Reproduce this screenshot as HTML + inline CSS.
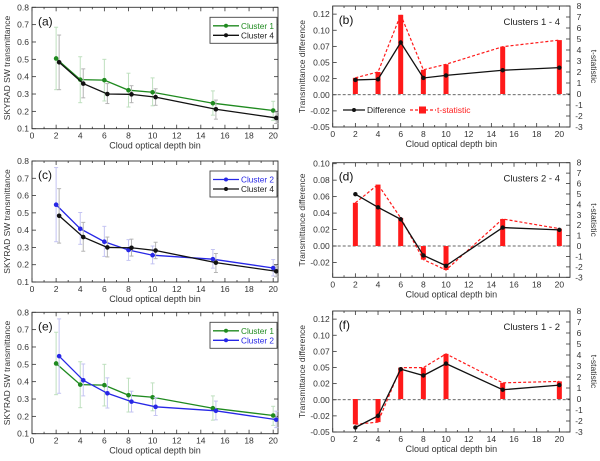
<!DOCTYPE html>
<html><head><meta charset="utf-8">
<style>
html,body{margin:0;padding:0;background:#fff;}
svg{display:block;font-family:"Liberation Sans",sans-serif;}
</style></head>
<body>
<svg id="fig" width="600" height="461" viewBox="0 0 600 461" xmlns="http://www.w3.org/2000/svg"></svg>
<script>
// ---- data ----
const bins = [2, 4, 6, 8, 10, 15, 20];
const cluster1 = [0.505, 0.383, 0.380, 0.322, 0.310, 0.247, 0.205];
const cluster1Lo = [0.325, 0.250, 0.260, 0.225, 0.232, 0.178, 0.148];
const cluster1Hi = [0.685, 0.515, 0.500, 0.420, 0.393, 0.318, 0.258];
const cluster2 = [0.547, 0.408, 0.333, 0.285, 0.255, 0.232, 0.181];
const cluster2Lo = [0.333, 0.318, 0.248, 0.225, 0.205, 0.180, 0.135];
const cluster2Hi = [0.762, 0.502, 0.422, 0.345, 0.308, 0.288, 0.230];
const cluster4 = [0.483, 0.360, 0.300, 0.298, 0.282, 0.212, 0.162];
const cluster4Lo = [0.325, 0.278, 0.245, 0.250, 0.235, 0.155, 0.130];
const cluster4Hi = [0.640, 0.445, 0.360, 0.348, 0.330, 0.265, 0.195];
const diff14 = [0.023, 0.024, 0.081, 0.026, 0.030, 0.038, 0.042];
const tstat14 = [1.47, 2.0, 7.2, 2.2, 2.7, 4.3, 4.9];
const diff24 = [0.063, 0.047, 0.0325, -0.0114, -0.024, 0.0224, 0.0196];
const tstat24 = [4.15, 5.9, 2.7, -1.3, -2.3, 2.6, 1.67];
const diff12 = [-0.043, -0.025, 0.0474, 0.0376, 0.056, 0.0155, 0.0227];
const tstat12 = [-2.3, -2.1, 2.85, 2.85, 4.1, 1.47, 1.6];
const leftYTicks = [0.1, 0.2, 0.3, 0.4, 0.5, 0.6, 0.7, 0.8];
const diffTicksB = [-0.05, -0.025, 0, 0.025, 0.05, 0.075, 0.1, 0.125];
const diffLabelsB = ["-0.05", "-0.02", "0.00", "0.02", "0.05", "0.07", "0.10", "0.12"];
const diffTicksD = [-0.02, 0, 0.02, 0.04, 0.06, 0.08, 0.10];
const diffLabelsD = ["-0.02", "0.00", "0.02", "0.04", "0.06", "0.08", "0.10"];
const tTicks = [-3, -2, -1, 0, 1, 2, 3, 4, 5, 6, 7, 8];
const xTicks = [0, 2, 4, 6, 8, 10, 12, 14, 16, 18, 20];

const NS = "http://www.w3.org/2000/svg";
const svg = document.getElementById('fig');
function mk(tag, attrs, parent, text) {
  const e = document.createElementNS(NS, tag);
  for (const k in attrs) e.setAttribute(k, attrs[k]);
  if (text !== undefined) e.textContent = text;
  (parent || svg).appendChild(e);
  return e;
}
const GREEN = "#1f8a1f", BLUE = "#2727e6", BLACK = "#111", RED = "#ff1a1a";
const LG = "#bfe0bf", LB = "#c4c4f2", LK = "#b4b4b4";

function drawXAxis(g, box, sx) {
  for (let v = 0; v <= 20; v++) {
    const x = sx(v), len = v % 2 === 0 ? 4 : 2;
    const t = mk('line', {x1: x, x2: x, y1: box.y1, y2: box.y1 - len, stroke: '#333', 'stroke-width': 0.8}, g);
    
    
    const t2 = mk('line', {x1: x, x2: x, y1: box.y0, y2: box.y0 + len, stroke: '#333', 'stroke-width': 0.8}, g);
    
    
  }
  xTicks.forEach(v => {
    const l = mk('text', {x: sx(v), y: box.y1 + 10, 'font-size': 8.5, 'text-anchor': 'middle', fill: '#333'}, g, String(v));
    
    
  });
  const tt = mk('text', {x: (box.x0 + box.x1) / 2, y: box.y1 + 20, 'font-size': 9, 'text-anchor': 'middle', fill: '#333'}, g, 'Cloud optical depth bin');
  
  
}
function frame(g, box) {
  const r = mk('rect', {x: box.x0, y: box.y0, width: box.x1 - box.x0, height: box.y1 - box.y0, fill: 'none', stroke: '#333', 'stroke-width': 0.9}, g);
  
  
}
function series(g, xs, ys, lo, hi, sx, sy, col, errCol, off, name) {
  xs.forEach((v, i) => {
    const x = sx(v + off);
    const e = mk('line', {x1: x, x2: x, y1: sy(lo[i]), y2: sy(hi[i]), stroke: errCol, 'stroke-width': 1}, g);
    
    
    [lo[i], hi[i]].forEach(w => {
      const c = mk('line', {x1: x - 2, x2: x + 2, y1: sy(w), y2: sy(w), stroke: errCol, 'stroke-width': 1}, g);
      
      
    });
  });
  const pts = xs.map((v, i) => sx(v + off) + ',' + sy(ys[i])).join(' ');
  const pl = mk('polyline', {points: pts, fill: 'none', stroke: col, 'stroke-width': 1.3}, g);
  
  
  xs.forEach((v, i) => {
    const c = mk('circle', {cx: sx(v + off), cy: sy(ys[i]), r: 2.3, fill: col}, g);
    
    
  });
}
function leftPanel(box, label, sA, sB) {
  const g = mk('g', {});
  
  
  const sx = v => box.x0 + v / 20.4 * (box.x1 - box.x0);
  const sy = v => box.y1 - (v - 0.1) / 0.7 * (box.y1 - box.y0);
  frame(g, box);
  drawXAxis(g, box, sx);
  leftYTicks.forEach(v => {
    const y = sy(v);
    mk('line', {x1: box.x0, x2: box.x0 + 4, y1: y, y2: y, stroke: '#333', 'stroke-width': 0.8}, g);
    mk('line', {x1: box.x1, x2: box.x1 - 4, y1: y, y2: y, stroke: '#333', 'stroke-width': 0.8}, g);
    const l = mk('text', {x: box.x0 - 3, y: y + 3, 'font-size': 8.5, 'text-anchor': 'end', fill: '#333'}, g, v.toFixed(1));
    
    
  });
  const cy = (box.y0 + box.y1) / 2;
  const yt = mk('text', {x: 10, y: cy, 'font-size': 8.5, 'text-anchor': 'middle', fill: '#333', transform: `rotate(-90 10 ${cy})`}, g, 'SKYRAD SW transmittance');
  
  
  const pl = mk('text', {x: box.x0 + 6, y: box.y0 + 18, 'font-size': 12, fill: '#111'}, g, label);
  
  
  series(g, bins, sA.v, sA.lo, sA.hi, sx, sy, sA.col, sA.ec, 0, sA.key);
  series(g, bins, sB.v, sB.lo, sB.hi, sx, sy, sB.col, sB.ec, 0.25, sB.key);
  const lg = mk('g', {}, g);
  
  
  const ly = box.y0 + 10;
  mk('rect', {x: box.x1 - 68, y: ly, width: 67, height: 26, fill: '#fff', stroke: '#444', 'stroke-width': 0.9}, lg);
  [sA, sB].forEach((s, i) => {
    const y = ly + 8.5 + i * 9.5;
    const e = mk('g', {}, lg);
    
    
    mk('line', {x1: box.x1 - 65, x2: box.x1 - 39, y1: y, y2: y, stroke: s.col, 'stroke-width': 1.3}, e);
    mk('circle', {cx: box.x1 - 52, cy: y, r: 2, fill: s.col}, e);
    mk('text', {x: box.x1 - 37, y: y + 3, 'font-size': 8, textLength: 33, lengthAdjust: 'spacingAndGlyphs', fill: s.col === BLACK ? '#222' : s.col}, e, s.name);
  });
}
function rightPanel(box, label, title, diff, tstat, dlo, dhi, dTicks, dLabels, showLegend) {
  const g = mk('g', {});
  
  
  const sx = v => box.x0 + v / 20.94 * (box.x1 - box.x0);
  const sy = v => box.y1 - (v - dlo) / (dhi - dlo) * (box.y1 - box.y0);
  const st = v => box.y1 - (v + 3) / 11 * (box.y1 - box.y0);
  frame(g, box);
  drawXAxis(g, box, sx);
  dTicks.forEach((v, i) => {
    const y = sy(v);
    mk('line', {x1: box.x0, x2: box.x0 + 4, y1: y, y2: y, stroke: '#333', 'stroke-width': 0.8}, g);
    const l = mk('text', {x: box.x0 - 3, y: y + 3, 'font-size': 8.5, 'text-anchor': 'end', fill: '#333'}, g, dLabels[i]);
    
    
  });
  tTicks.forEach(v => {
    const y = st(v);
    mk('line', {x1: box.x1, x2: box.x1 - 4, y1: y, y2: y, stroke: '#333', 'stroke-width': 0.8}, g);
    const l = mk('text', {x: box.x1 + 9, y: y + 3, 'font-size': 8.5, 'text-anchor': 'middle', fill: '#333'}, g, String(v));
    
    
  });
  const cy = (box.y0 + box.y1) / 2;
  const yt = mk('text', {x: 305, y: cy, 'font-size': 8.5, 'text-anchor': 'middle', fill: '#333', transform: `rotate(-90 305 ${cy})`}, g, 'Transmittance difference');
  
  
  const rt = mk('text', {x: 591, y: cy, 'font-size': 8.5, 'text-anchor': 'middle', fill: '#333', transform: `rotate(90 591 ${cy})`}, g, 't-statistic');
  
  
  const z = mk('line', {x1: box.x0, x2: box.x1, y1: sy(0), y2: sy(0), stroke: '#333', 'stroke-width': 0.8, 'stroke-dasharray': '3,2'}, g);
  
  
  bins.forEach((v, i) => {
    const y0 = st(0), y1 = st(tstat[i]);
    const b = mk('rect', {x: sx(v) - 2.5, y: Math.min(y0, y1), width: 5, height: Math.abs(y1 - y0), fill: RED}, g);
    
    
  });
  const tl = mk('polyline', {points: bins.map((v, i) => sx(v) + ',' + st(tstat[i])).join(' '), fill: 'none', stroke: RED, 'stroke-width': 1.2, 'stroke-dasharray': '3,2'}, g);
  
  
  const dl = mk('polyline', {points: bins.map((v, i) => sx(v) + ',' + sy(diff[i])).join(' '), fill: 'none', stroke: BLACK, 'stroke-width': 1.3}, g);
  
  
  bins.forEach((v, i) => {
    const c = mk('circle', {cx: sx(v), cy: sy(diff[i]), r: 2.2, fill: BLACK}, g);
    
    
  });
  const pl = mk('text', {x: box.x0 + 6, y: box.y0 + 18, 'font-size': 12, fill: '#111'}, g, label);
  
  
  const ct = mk('text', {x: box.x1 - 10, y: box.y0 + 19, 'font-size': 9.5, 'text-anchor': 'end', fill: '#222'}, g, title);
  
  
  if (showLegend) {
    const lg = mk('g', {}, g);
    
    
    const y = box.y0 + 104;
    mk('line', {x1: 343, x2: 365, y1: y, y2: y, stroke: BLACK, 'stroke-width': 1.3}, lg);
    mk('circle', {cx: 354, cy: y, r: 2, fill: BLACK}, lg);
    mk('text', {x: 367, y: y + 3, 'font-size': 8.5, fill: '#222'}, lg, 'Difference');
    mk('line', {x1: 410, x2: 436, y1: y, y2: y, stroke: RED, 'stroke-width': 1.2, 'stroke-dasharray': '3,2'}, lg);
    mk('rect', {x: 419, y: y - 3.5, width: 7, height: 7, fill: RED}, lg);
    mk('text', {x: 437, y: y + 3, 'font-size': 8.5, fill: RED}, lg, 't-statistic');
  }
}
const C1 = {v: cluster1, lo: cluster1Lo, hi: cluster1Hi, col: GREEN, ec: LG, key: 'cluster-1', name: 'Cluster 1'};
const C2 = {v: cluster2, lo: cluster2Lo, hi: cluster2Hi, col: BLUE, ec: LB, key: 'cluster-2', name: 'Cluster 2'};
const C4 = {v: cluster4, lo: cluster4Lo, hi: cluster4Hi, col: BLACK, ec: LK, key: 'cluster-4', name: 'Cluster 4'};
leftPanel({x0: 32, x1: 278, y0: 7.3, y1: 128.7}, '(a)', C1, C4);
leftPanel({x0: 32, x1: 278, y0: 161, y1: 282}, '(c)', C2, C4);
leftPanel({x0: 32, x1: 278, y0: 312.3, y1: 433.7}, '(e)', C1, C2);
rightPanel({x0: 332.7, x1: 570, y0: 6, y1: 127}, '(b)', 'Clusters 1 - 4', diff14, tstat14, -0.05, 0.1376, diffTicksB, diffLabelsB, true);
rightPanel({x0: 332.7, x1: 570, y0: 162.7, y1: 277.3}, '(d)', 'Clusters 2 - 4', diff24, tstat24, -0.038, 0.1012, diffTicksD, diffLabelsD, false);
rightPanel({x0: 332.7, x1: 570, y0: 311, y1: 432}, '(f)', 'Clusters 1 - 2', diff12, tstat12, -0.05, 0.1376, diffTicksB, diffLabelsB, false);
</script>
</body></html>
